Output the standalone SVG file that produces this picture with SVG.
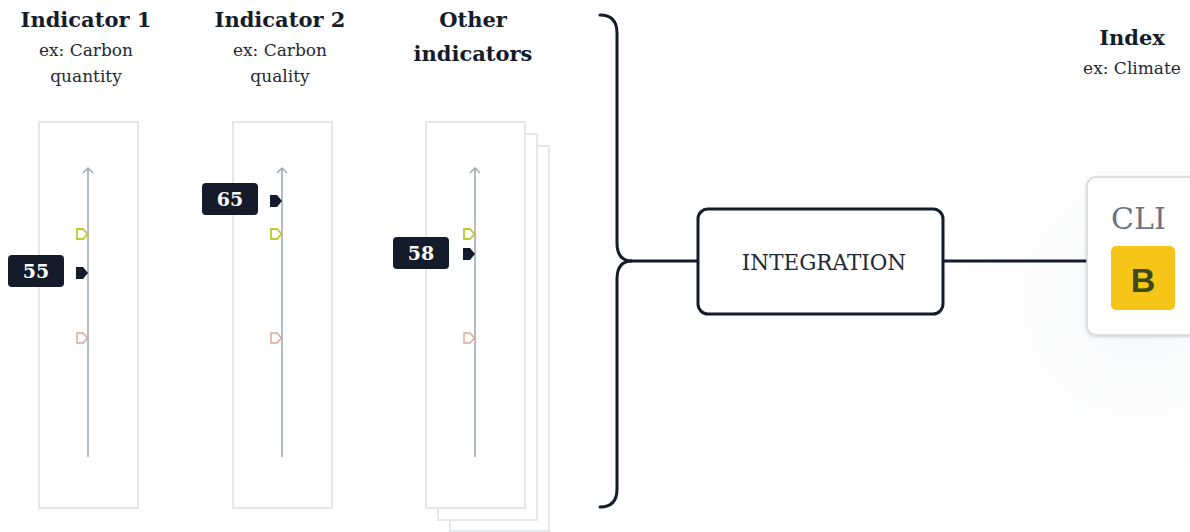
<svg xmlns="http://www.w3.org/2000/svg" width="1190" height="532" viewBox="0 0 1190 532">
<defs>
<style>
.title{font-family:"DejaVu Serif","Liberation Serif",serif;font-weight:bold;font-size:21px;fill:#141b2b;text-anchor:middle}
.sub{font-family:"DejaVu Serif","Liberation Serif",serif;font-size:17px;fill:#1f2937;text-anchor:middle}
.panel{fill:#fff;stroke:#e5e7eb;stroke-width:2}
.axis{stroke:#9aa5b4;stroke-width:1.5;fill:none}
.chev{stroke:#9aa5b4;stroke-width:1.4;fill:none}
.green{fill:none;stroke:#b8cc2c;stroke-width:1.8}
.red{fill:none;stroke:#e4a294;stroke-width:1.4}
.blk{fill:#141b2b}
.badge{fill:#141b2b}
.badgetxt{font-family:"DejaVu Serif","Liberation Serif",serif;font-weight:bold;font-size:19px;fill:#fff;text-anchor:middle}
.conn{stroke:#141b2b;stroke-width:3;fill:none;stroke-linecap:round}
</style>
<radialGradient id="glow" cx="0.5" cy="0.5" r="0.5">
<stop offset="0" stop-color="#eceef1" stop-opacity="0.55"/>
<stop offset="1" stop-color="#ffffff" stop-opacity="0"/>
</radialGradient>
<filter id="sh" x="-20%" y="-20%" width="140%" height="140%">
<feDropShadow dx="0" dy="1" stdDeviation="1.5" flood-color="#000" flood-opacity="0.18"/>
</filter>
</defs>
<rect width="1190" height="532" fill="#fff"/>
<ellipse cx="1140" cy="300" rx="230" ry="230" fill="url(#glow)"/>

<g id="indicator1">
<text class="title" x="86" y="27">Indicator 1</text>
<text class="sub" x="86" y="56">ex: Carbon</text>
<text class="sub" x="86" y="82">quantity</text>
<rect class="panel" x="39" y="122" width="99" height="386"/>
<line class="axis" x1="88" y1="457" x2="88" y2="168"/>
<path class="chev" d="M83,173 L88,168 L93,173"/>
<path class="green" d="M77,229 h6 l4.5,5 l-4.5,5 h-6 z"/>
<path class="blk" d="M76,267 h7 l5,6 l-5,6 h-7 z"/>
<path class="red" d="M77,333 h6 l4.5,5 l-4.5,5 h-6 z"/>
<rect class="badge" x="8" y="255" width="56" height="32" rx="4"/>
<text class="badgetxt" x="36" y="278">55</text>
</g>

<g id="indicator2">
<text class="title" x="280" y="27">Indicator 2</text>
<text class="sub" x="280" y="56">ex: Carbon</text>
<text class="sub" x="280" y="82">quality</text>
<rect class="panel" x="233" y="122" width="99" height="386"/>
<line class="axis" x1="282" y1="457" x2="282" y2="168"/>
<path class="chev" d="M277,173 L282,168 L287,173"/>
<path class="blk" d="M270,195 h7 l5,6 l-5,6 h-7 z"/>
<path class="green" d="M271,229 h6 l4.5,5 l-4.5,5 h-6 z"/>
<path class="red" d="M271,333 h6 l4.5,5 l-4.5,5 h-6 z"/>
<rect class="badge" x="202" y="183" width="56" height="32" rx="4"/>
<text class="badgetxt" x="230" y="206">65</text>
</g>

<g id="other">
<text class="title" x="473" y="27">Other</text>
<text class="title" x="473" y="61">indicators</text>
<rect class="panel" x="450" y="146" width="99" height="385"/>
<rect class="panel" x="438" y="134" width="99" height="386"/>
<rect class="panel" x="426" y="122" width="99" height="386"/>
<line class="axis" x1="475" y1="457" x2="475" y2="168"/>
<path class="chev" d="M470,173 L475,168 L480,173"/>
<path class="green" d="M464,229 h6 l4.5,5 l-4.5,5 h-6 z"/>
<path class="blk" d="M463,248 h7 l5,6 l-5,6 h-7 z"/>
<path class="red" d="M464,333 h6 l4.5,5 l-4.5,5 h-6 z"/>
<rect class="badge" x="393" y="237" width="56" height="32" rx="4"/>
<text class="badgetxt" x="421" y="260">58</text>
</g>

<g id="connectors">
<path class="conn" d="M600,15 Q617,15 617,33 L617,243 Q617,261 632,261 Q617,261 617,279 L617,489 Q617,507 600,507"/>
<line class="conn" x1="630" y1="261" x2="698" y2="261"/>
<line class="conn" x1="943" y1="261" x2="1087" y2="261"/>
</g>

<g id="integration">
<rect x="698" y="209" width="245" height="105" rx="10" fill="#fff" stroke="#141b2b" stroke-width="3"/>
<text x="824" y="270" font-family="DejaVu Serif, Liberation Serif, serif" font-size="21.5" fill="#1f2937" text-anchor="middle">INTEGRATION</text>
</g>

<g id="index">
<text class="title" x="1132" y="45">Index</text>
<text class="sub" x="1132" y="74">ex: Climate</text>
<rect x="1087" y="177" width="130" height="158" rx="9" fill="#fff" stroke="#d6d8dc" stroke-width="1.5" filter="url(#sh)"/>
<text x="1111" y="229" font-family="DejaVu Serif, Liberation Serif, serif" font-size="30" fill="#6b7280">CLI</text>
<rect x="1111" y="246" width="64" height="64" rx="5" fill="#f5c518"/>
<text x="1143" y="292" font-family="Liberation Sans, Arial, sans-serif" font-weight="bold" font-size="34" fill="#3b4a14" text-anchor="middle">B</text>
</g>
</svg>
